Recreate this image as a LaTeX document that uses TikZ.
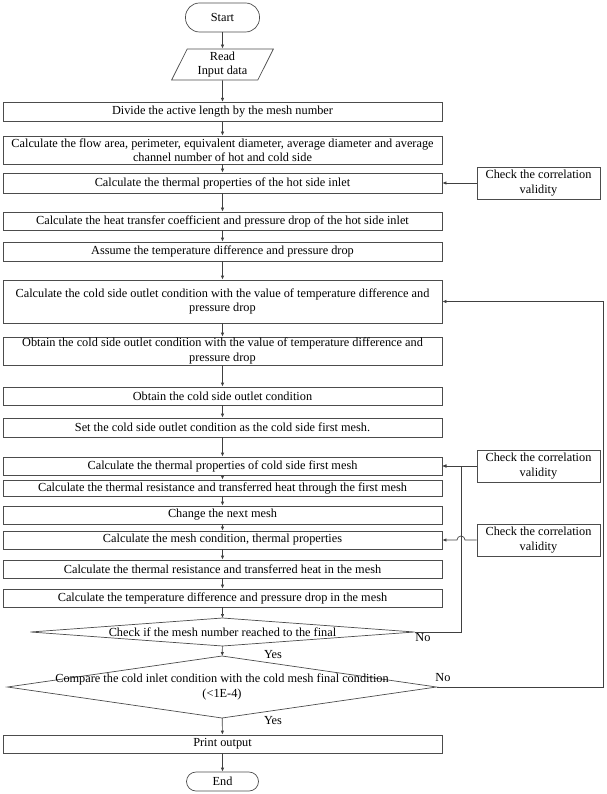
\documentclass[tikz,border=0pt]{standalone}
\usepackage{fontspec}
\setmainfont{Liberation Serif}
\usetikzlibrary{shapes.geometric,arrows.meta}

\tikzset{
  every node/.style={font=\fontsize{12.3}{14.5}\selectfont},
  proc/.style={draw=black!70, line width=0.7pt, minimum width=439pt, inner xsep=0pt, inner ysep=0pt, align=center},
  term/.style={draw=black!70, line width=0.7pt, rectangle, rounded corners=14pt, minimum width=74pt, minimum height=29pt},
  inout/.style={draw=black!70, line width=0.7pt, trapezium, trapezium left angle=67, trapezium right angle=113, trapezium stretches=true, minimum width=102pt, minimum height=31pt, inner sep=0pt, align=center},
  decision/.style={draw=black!70, line width=0.7pt, diamond, inner sep=0pt, outer sep=0pt},
  checkbox/.style={draw=black!70, line width=0.7pt, minimum width=123pt, minimum height=32pt, inner sep=1pt, align=center},
  flow/.style={draw=black!75, line width=0.7pt, -{Latex[length=4pt,width=3.4pt]}},
}

\begin{document}
\begin{tikzpicture}[x=1pt,y=-1pt]
\useasboundingbox (0,0) rectangle (606,794);

\node[term] (start) at (222.5,17.5) {Start};
\node[inout] (read) at (222.5,64.5) {Read\\Input data};
\node[proc, minimum height=19.5pt] (divide) at (222.5,112) {Divide the active length by the mesh number};
\node[proc, minimum height=28pt] (area) at (222.5,150) {Calculate the flow area, perimeter, equivalent diameter, average diameter and average\\channel number of hot and cold side};
\node[proc, minimum height=20pt] (hotprop) at (222.5,183) {Calculate the thermal properties of the hot side inlet};
\node[proc, minimum height=18pt] (hothtc) at (222.5,221) {Calculate the heat transfer coefficient and pressure drop of the hot side inlet};
\node[proc, minimum height=19pt] (assume) at (222.5,251.5) {Assume the temperature difference and pressure drop};
\node[proc, minimum height=43pt] (coldcalc) at (222.5,301.5) {Calculate the cold side outlet condition with the value of temperature difference and\\pressure drop};
\node[proc, minimum height=28pt] (coldobt) at (222.5,351) {Obtain the cold side outlet condition with the value of temperature difference and\\pressure drop};
\node[proc, minimum height=18pt] (coldout) at (222.5,396) {Obtain the cold side outlet condition};
\node[proc, minimum height=19pt] (setmesh) at (222.5,427.5) {Set the cold side outlet condition as the cold side first mesh.};
\node[proc, minimum height=18pt] (meshprop) at (222.5,466) {Calculate the thermal properties of cold side first mesh};
\node[proc, minimum height=16pt] (meshres) at (222.5,488) {Calculate the thermal resistance and transferred heat through the first mesh};
\node[proc, minimum height=18pt] (nextmesh) at (222.5,515) {Change the next mesh};
\node[proc, minimum height=18pt] (meshcond) at (222.5,540) {Calculate the mesh condition, thermal properties};
\node[proc, minimum height=18pt] (meshheat) at (222.5,569) {Calculate the thermal resistance and transferred heat in the mesh};
\node[proc, minimum height=18pt] (meshdrop) at (222.5,598) {Calculate the temperature difference and pressure drop in the mesh};
\node[decision, minimum width=384pt, minimum height=28pt, label=center:{Check if the mesh number reached to the final}] (lastmesh) at (222.5,632) {};
\node[decision, minimum width=429pt, minimum height=62pt, label={[align=center]center:{Compare the cold inlet condition with the cold mesh final condition\\(<1E-4)}}] (converge) at (222,687) {};
\node[proc, minimum height=18pt] (print) at (222.5,744) {Print output};
\node[term, minimum width=72pt, minimum height=19pt, rounded corners=9.5pt] (end) at (222.5,781.5) {End};

% correlation checks on the right
\node[checkbox] (chkhot) at (538.5,183) {Check the correlation\\validity};
\node[checkbox] (chkfirst) at (538.5,466) {Check the correlation\\validity};
\node[checkbox] (chkmesh) at (538.5,540) {Check the correlation\\validity};

\node (no1) at (423,638) {No};
\node (yes1) at (273,655) {Yes};
\node (no2) at (443,678) {No};
\node (yes2) at (273,721) {Yes};

\coordinate (hop) at (465,540);
\coordinate (back1) at (461,632);
\coordinate (back2) at (603,687);

\draw[flow] (start) -- (read);
\draw[flow] (read) -- (divide);
\draw[flow] (divide) -- (area);
\draw[flow] (area) -- (hotprop);
\draw[flow] (hotprop) -- (hothtc);
\draw[flow] (hothtc) -- (assume);
\draw[flow] (assume) -- (coldcalc);
\draw[flow] (coldcalc) -- (coldobt);
\draw[flow] (coldobt) -- (coldout);
\draw[flow] (coldout) -- (setmesh);
\draw[flow] (setmesh) -- (meshprop);
\draw[flow] (meshprop) -- (meshres);
\draw[flow] (meshres) -- (nextmesh);
\draw[flow] (nextmesh) -- (meshcond);
\draw[flow] (meshcond) -- (meshheat);
\draw[flow] (meshheat) -- (meshdrop);
\draw[flow] (meshdrop) -- (lastmesh);
\draw[flow] (lastmesh) -- (converge);
\draw[flow] (converge) -- (print);
\draw[flow] (print) -- (end);

\draw[flow] (chkhot) -- (hotprop);
\draw[flow] (chkfirst) -- (meshprop);
\draw[flow] (chkmesh.west) -- (hop) arc[start angle=0, end angle=-180, radius=4] -- (meshcond.east);
\draw[flow] (lastmesh.east) -- (back1) |- (meshprop.east);
\draw[flow] (converge.east) -- (back2) |- (coldcalc.east);
\end{tikzpicture}
\end{document}
